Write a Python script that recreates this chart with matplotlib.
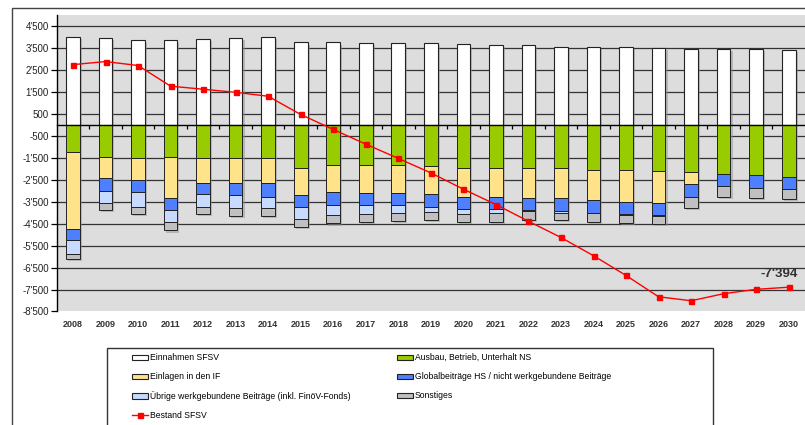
import matplotlib
matplotlib.use("Agg")
import matplotlib.pyplot as plt
from matplotlib.patches import Patch, Rectangle
from matplotlib.lines import Line2D
import matplotlib.patheffects as pe
from matplotlib.ticker import FuncFormatter
import numpy as np

plt.rcParams['font.family'] = ['Liberation Sans', 'DejaVu Sans']

years = [str(y) for y in range(2008, 2031)]
einnahmen = [3980, 3940, 3840, 3840, 3890, 3940, 3980, 3750, 3750, 3710, 3710, 3710,
             3660, 3620, 3620, 3550, 3550, 3550, 3510, 3460, 3450, 3450, 3400]
ausbau = [1260, 1450, 1510, 1450, 1510, 1510, 1510, 1970, 1830, 1830, 1830, 1890,
          1970, 1970, 1970, 1970, 2050, 2060, 2120, 2170, 2240, 2290, 2370]
einlagen = [3480, 980, 1010, 1860, 1120, 1160, 1140, 1230, 1210, 1280, 1280, 1270,
            1300, 1300, 1340, 1340, 1370, 1440, 1450, 530, 0, 0, 0]
global_hs = [520, 580, 560, 580, 530, 530, 630, 540, 610, 540, 540, 580,
             580, 580, 570, 610, 580, 570, 550, 580, 540, 590, 560]
uebrige = [630, 530, 660, 540, 580, 570, 490, 560, 450, 390, 360, 230,
           220, 150, 60, 110, 20, 20, 20, 20, 0, 0, 0]
sonstiges = [220, 340, 300, 380, 300, 380, 380, 350, 390, 390, 370, 380,
             360, 410, 410, 320, 390, 370, 390, 470, 490, 430, 460]
bestand = [2740, 2880, 2700, 1760, 1620, 1480, 1300, 470, -210, -880, -1530, -2190,
           -2930, -3630, -4390, -5130, -5960, -6860, -7830, -8010, -7690, -7490, -7394]

labels = ["Einnahmen SFSV", "Ausbau, Betrieb, Unterhalt NS", "Einlagen in den IF",
          "Globalbeiträge HS / nicht werkgebundene Beiträge",
          "Übrige werkgebundene Beiträge (inkl. FinöV-Fonds)", "Sonstiges", "Bestand SFSV"]
colors = ["#FFFFFF", "#99CC00", "#FFE38B", "#4D7FFF", "#C9DAFF", "#C0C0C0"]

W, H = 805, 425
fig = plt.figure(figsize=(W / 100, H / 100), dpi=100)
top_px, bot_px, left_px = 15, 311.5, 56.7
ax = fig.add_axes([left_px / W, 1 - bot_px / H, 1 - left_px / W, (bot_px - top_px) / H])
ax.set_facecolor("#DDDDDD")

x = np.arange(len(years))
bw = 0.42
shadow = [pe.SimplePatchShadow(offset=(1.5, -1.5), shadow_rgbFace='#909090', alpha=0.5), pe.Normal()]

ax.bar(x, einnahmen, bw, color=colors[0], edgecolor="#222222", linewidth=0.8,
       zorder=3, path_effects=shadow)
bottom = np.zeros(len(x))
for vals, col in zip([ausbau, einlagen, global_hs, uebrige, sonstiges], colors[1:]):
    v = -np.array(vals, dtype=float)
    ax.bar(x, v, bw, bottom=bottom, color=col, edgecolor="#222222", linewidth=0.7,
           zorder=3, path_effects=shadow)
    bottom = bottom + v

ax.plot(x, bestand, color="#FF0000", linewidth=1.0, marker="s", markersize=3.6,
        zorder=5)
ax.annotate("-7'394", xy=(x[-1], bestand[-1]), xytext=(-7, 5), textcoords="offset points",
            ha="center", va="bottom", fontsize=9.5, fontweight="bold", color="#333333",
            zorder=6)

ax.set_xlim(-0.5, len(x) - 0.5)
ax.set_ylim(-8500, 5000)
yt = np.arange(-8500, 4501, 1000)
ax.set_yticks(yt)
ax.yaxis.set_major_formatter(FuncFormatter(
    lambda v, p: ("-" if v < 0 else "") + (f"{int(abs(v)) // 1000}'{int(abs(v)) % 1000:03d}"
                                            if abs(v) >= 1000 else f"{int(abs(v))}")))
ax.tick_params(axis="y", direction="out", length=4, width=0.9, colors="#000000",
               labelsize=7, labelcolor="#222222", pad=1.5)
ax.yaxis.grid(True, color="#333333", linewidth=0.9, zorder=1)
ax.set_axisbelow(True)
ax.get_ygridlines()[0].set_visible(False)

# zero line as category axis
ax.spines["bottom"].set_position(("data", 0))
ax.spines["bottom"].set_zorder(4)
ax.spines["bottom"].set_linewidth(1.0)
ax.set_xticks(x)
ax.set_xticklabels([])
ax.tick_params(axis="x", which="major", length=0)
ax.set_xticks(x[:-1] + 0.5, minor=True)
ax.tick_params(axis="x", which="minor", direction="out", length=3, width=0.9)
ax.spines["top"].set_visible(False)
ax.spines["right"].set_visible(False)
ax.spines["left"].set_linewidth(1.0)

sec = ax.secondary_xaxis("bottom")
sec.set_xticks(x)
sec.set_xticklabels(years, fontsize=6.5, fontweight="bold", color="#333333")
sec.tick_params(length=0, pad=6)
sec.spines["bottom"].set_visible(False)

# outer chart border
fig.patches.append(Rectangle((12 / W, -0.1), 1.2, 1 - 8.5 / H + 0.1, transform=fig.transFigure,
                             fill=False, edgecolor="#444444", linewidth=1.0))
# legend frame
fig.patches.append(Rectangle((106.7 / W, -0.1), (713 - 106.7) / W, 1 - 347.7 / H + 0.1,
                             transform=fig.transFigure, fill=False, edgecolor="#333333",
                             linewidth=1.0))

def ph(c):
    return Patch(facecolor=c, edgecolor="#222222", linewidth=0.8)

line_h = Line2D([], [], color="#FF0000", linewidth=1.0, marker="s", markersize=3.6)
col1 = [ph(colors[0]), ph(colors[2]), ph(colors[4]), line_h]
col1_l = [labels[0], labels[2], labels[4], labels[6]]
col2 = [ph(colors[1]), ph(colors[3]), ph(colors[5])]
col2_l = [labels[1], labels[3], labels[5]]
leg_kw = dict(loc="upper left", frameon=False, borderpad=0, borderaxespad=0,
              handlelength=1.9, handleheight=0.6, handletextpad=0.2, labelspacing=1.16,
              fontsize=6.2)
fig.legend(col1, col1_l, bbox_to_anchor=(131.7 / W, 1 - 353.3 / H), **leg_kw)
fig.legend(col2, col2_l, bbox_to_anchor=(396.7 / W, 1 - 353.3 / H), **leg_kw)

fig.savefig("out.png", dpi=100)
